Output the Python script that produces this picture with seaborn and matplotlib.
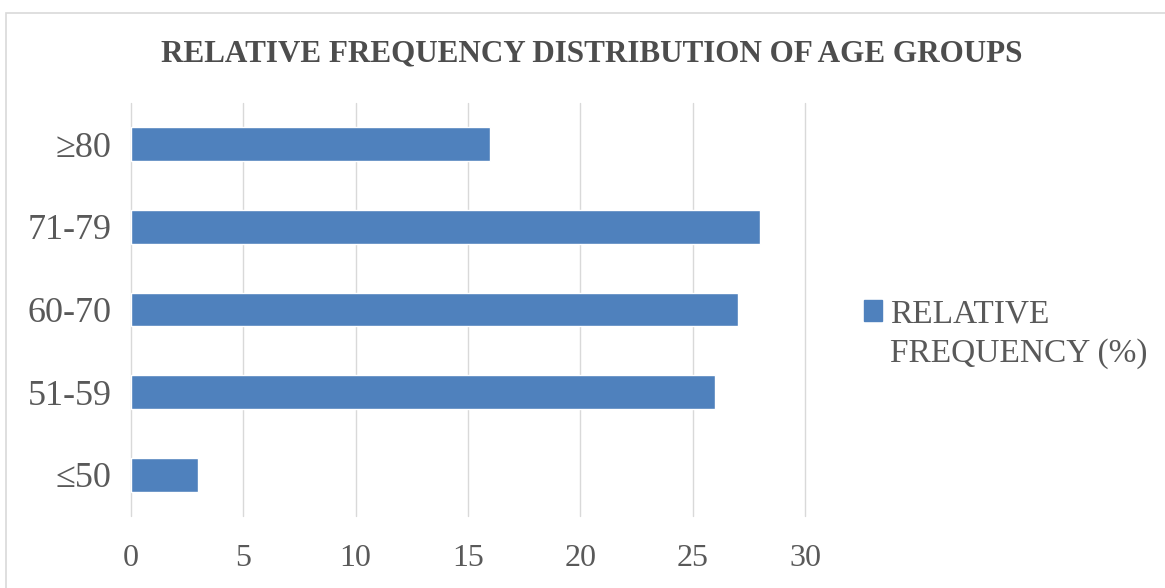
import matplotlib
matplotlib.use("Agg")
import matplotlib.pyplot as plt
from matplotlib.patches import Patch, Rectangle
import pandas as pd
import seaborn as sns

# values
age_groups = ["≥80", "71-79", "60-70", "51-59", "≤50"]
rel_freq = [16, 28, 27, 26, 3]
x_ticks = [0, 5, 10, 15, 20, 25, 30]
series_name = ["RELATIVE", "FREQUENCY (%)"]

sns.set_style("white")
plt.rcParams["font.family"] = ["Liberation Serif", "DejaVu Serif"]

BAR = "#4f81bd"
TXT = "#595959"
GRID = "#d9d9d9"
W, H = 1165, 588

df = pd.DataFrame({"group": age_groups, "freq": rel_freq})

fig = plt.figure(figsize=(W / 100, H / 100), dpi=100)
ax = fig.add_axes([131 / W, 1 - 516 / H, (805 - 131) / W, (516 - 103) / H])

sns.barplot(data=df, x="freq", y="group", orient="h", color=BAR,
            saturation=1, width=0.41, ax=ax, zorder=3)

ax.set_xlim(0, 30)
ax.set_ylim(4.5, -0.5)
ax.set_xticks(x_ticks)
ax.set_xticklabels([str(t) for t in x_ticks], fontsize=23, color=TXT)
ax.tick_params(axis="y", labelsize=26, labelcolor=TXT, length=0, pad=14)
ax.tick_params(axis="x", length=0, pad=20)
ax.grid(axis="x", color=GRID, linewidth=1, zorder=0)
for gl in ax.get_xgridlines():
    gl.set_clip_on(False)
ax.set_xlabel("")
ax.set_ylabel("")
for s in ax.spines.values():
    s.set_visible(False)

fig.text(592 / W, 1 - 54 / H, "RELATIVE FREQUENCY DISTRIBUTION OF AGE GROUPS",
         ha="center", va="center", fontsize=22.4, fontweight="bold", color="#4d4d4d")

handles = [Patch(facecolor=BAR, edgecolor=BAR, label=series_name[0])]
leg = fig.legend(handles=handles, loc="center left",
                 bbox_to_anchor=(847 / W, 1 - 314 / H), frameon=False,
                 fontsize=24, labelcolor=TXT, handlelength=0.55,
                 handleheight=0.55, handletextpad=0.25, borderpad=0)

# second line of the legend label, lined up under the first
fig.canvas.draw()
bb = leg.get_texts()[0].get_window_extent()
fig.text(bb.x0 / W, (bb.y0 - 40) / H, series_name[1], ha="left", va="bottom",
         fontsize=24, color=TXT)

# light chart-area border (top/left only visible in the crop)
fig.patches.append(Rectangle((6 / W, -0.1), 1.1, 1 - 13 / H + 0.1,
                             transform=fig.transFigure, fill=False,
                             edgecolor="#d9d9d9", linewidth=1.2))

fig.savefig("out.png", dpi=100)
